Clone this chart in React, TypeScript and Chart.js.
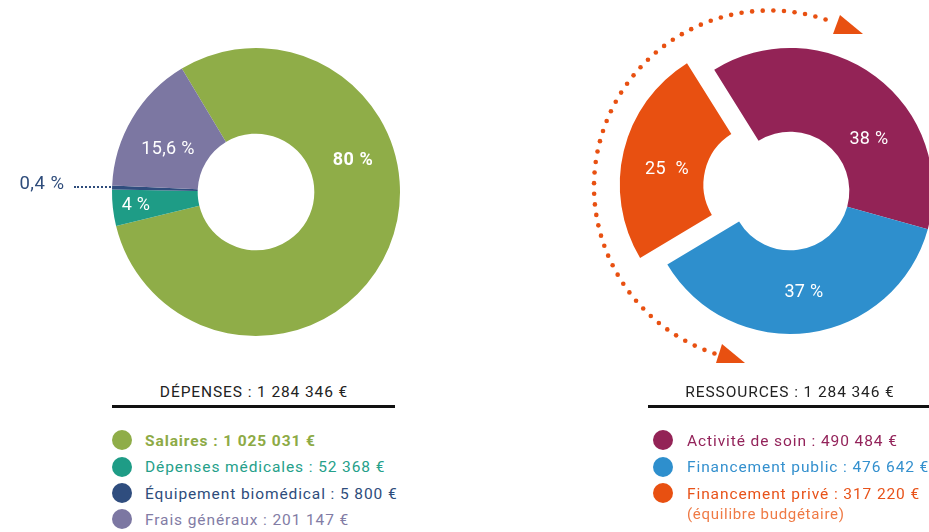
import React, { useEffect, useRef } from "react";
import { Chart, registerables } from "chart.js";

Chart.register(...registerables);

// ---------- data ----------
const depLabels = ["Salaires", "Dépenses médicales", "Équipement biomédical", "Frais généraux"];
const depValues = [1025031, 52368, 5800, 201147];
const depColors = ["#8FAD48", "#1E9C86", "#2F4D7E", "#7C77A2"];
const depTextColors = ["#8DAA45", "#25A08A", "#2E4C7B", "#827CA5"];
const depPct = ["80 %", "4 %", "0,4 %", "15,6 %"];
const depTotal = "DÉPENSES : 1 284 346 €";
const depLegend = ["Salaires : 1 025 031 €", "Dépenses médicales : 52 368 €", "Équipement biomédical : 5 800 €", "Frais généraux : 201 147 €"];

const resLabels = ["Activité de soin", "Financement public", "Financement privé"];
const resValues = [490484, 476642, 317220];
const resColors = ["#932356", "#2E8FCD", "#E85011"];
const resTextColors = ["#93235A", "#3490CE", "#E8531A"];
const resPct = ["38 %", "37 %", "25  %"];
const resTotal = "RESSOURCES : 1 284 346 €";
const resLegend = ["Activité de soin : 490 484 €", "Financement public : 476 642 €", "Financement privé : 317 220 €"];
const resNote = "(équilibre budgétaire)";

const FONT = "Roboto, 'Noto Sans', sans-serif";

const arrowPlugin = {
  id: "cycleArrow",
  afterDraw(chart: any) {
    const meta = chart.getDatasetMeta(0);
    const el = meta.data[0];
    if (!el) return;
    const cx = el.x;
    const cy = el.y;
    const ctx = chart.ctx;
    const ax = cx - 20;
    const ay = cy - 4.5;
    const r = 176;
    const start = (18.4 - 90) * Math.PI / 180;
    const end = (198.4 - 90 - 360) * Math.PI / 180;
    const n = 52;
    ctx.save();
    ctx.fillStyle = "#E85011";
    for (let i = 0; i <= n; i++) {
      const a = start + (end - start) * (i / n);
      ctx.beginPath();
      ctx.arc(ax + r * Math.cos(a), ay + r * Math.sin(a), 2.3, 0, Math.PI * 2);
      ctx.fill();
    }
    const tri = (pts: number[][]) => {
      ctx.beginPath();
      ctx.moveTo(cx + pts[0][0], cy + pts[0][1]);
      ctx.lineTo(cx + pts[1][0], cy + pts[1][1]);
      ctx.lineTo(cx + pts[2][0], cy + pts[2][1]);
      ctx.closePath();
      ctx.fill();
    };
    tri([[43, -157], [73, -157], [50, -176]]);
    tri([[-74, 172], [-45, 172], [-68, 153]]);
    ctx.restore();
  },
};

function Donut(props: {
  labels: string[];
  values: number[];
  colors: string[];
  rotation: number;
  radius: number;
  cutout: string;
  offsets: number[];
  size: number;
  left: number;
  top: number;
  plugins?: any[];
}) {
  const ref = useRef<HTMLCanvasElement | null>(null);
  useEffect(() => {
    if (!ref.current) return;
    const chart = new Chart(ref.current, {
      type: "doughnut",
      data: {
        labels: props.labels,
        datasets: [
          {
            data: props.values,
            backgroundColor: props.colors,
            borderWidth: 0,
            offset: props.offsets,
          } as any,
        ],
      },
      options: {
        responsive: false,
        animation: false,
        events: [],
        rotation: props.rotation,
        radius: props.radius,
        cutout: props.cutout,
        layout: { padding: 0 },
        plugins: { legend: { display: false }, tooltip: { enabled: false } },
      } as any,
      plugins: props.plugins || [],
    });
    return () => chart.destroy();
  }, []);
  return (
    <canvas
      ref={ref}
      width={props.size}
      height={props.size}
      style={{ position: "absolute", left: props.left, top: props.top, width: props.size, height: props.size }}
    />
  );
}

function T(props: { x: number; y: number; children: any; style?: any; center?: boolean }) {
  return (
    <div
      style={{
        position: "absolute",
        left: props.x,
        top: props.y,
        transform: props.center ? "translate(-50%, -50%)" : "translate(0, -50%)",
        whiteSpace: "pre",
        fontFamily: FONT,
        fontSize: 15.5,
        letterSpacing: "0.9px",
        lineHeight: 1,
        ...props.style,
      }}
    >
      {props.children}
    </div>
  );
}

function Dot(props: { x: number; y: number; color: string }) {
  return (
    <div
      style={{
        position: "absolute",
        left: props.x - 10,
        top: props.y - 10,
        width: 20,
        height: 20,
        borderRadius: "50%",
        background: props.color,
      }}
    />
  );
}

export default function App() {
  const depRows = [440, 466.5, 493, 519];
  const resRows = [440, 466.5, 493];
  const textShift = 1.5;
  return (
    <div
      style={{
        position: "absolute",
        left: 0,
        top: 0,
        width: 929,
        height: 532,
        overflow: "hidden",
        background: "#fff",
      }}
    >
      <Donut
        labels={depLabels}
        values={depValues}
        colors={depColors}
        rotation={-31}
        radius={144}
        cutout="40.5%"
        offsets={[0, 0, 0, 0]}
        size={320}
        left={96}
        top={32}
      />
      <Donut
        labels={resLabels}
        values={resValues}
        colors={resColors}
        rotation={-32}
        radius={143}
        cutout="41.5%"
        offsets={[0, 0, 112]}
        size={400}
        left={590}
        top={-9}
        plugins={[arrowPlugin]}
      />

      {/* donut labels */}
      <T x={353} y={159} center style={{ color: "#fff", fontWeight: 700, fontSize: 18, letterSpacing: "0.5px" }}>{depPct[0]}</T>
      <T x={168} y={148} center style={{ color: "#fff", fontSize: 18, letterSpacing: "0.3px" }}>{depPct[3]}</T>
      <T x={136} y={204} center style={{ color: "#fff", fontSize: 18, letterSpacing: "0.3px" }}>{depPct[1]}</T>
      <T x={42} y={183} center style={{ color: "#2E4C7B", fontSize: 18.5, letterSpacing: "0.5px" }}>{depPct[2]}</T>
      <div style={{ position: "absolute", left: 74, top: 186, width: 37, height: 0, borderTop: "2.5px dotted #2E4C7B" }} />

      <T x={869} y={138} center style={{ color: "#fff", fontSize: 18, letterSpacing: "0.3px" }}>{resPct[0]}</T>
      <T x={804} y={291} center style={{ color: "#fff", fontSize: 18, letterSpacing: "0.3px" }}>{resPct[1]}</T>
      <T x={667} y={168} center style={{ color: "#fff", fontSize: 18, letterSpacing: "0.3px" }}>{resPct[2]}</T>

      {/* titles */}
      <T x={254} y={391 + textShift} center style={{ color: "#222" }}>{depTotal}</T>
      <div style={{ position: "absolute", left: 112, top: 405, width: 283, height: 3, background: "#111" }} />
      <T x={790} y={391 + textShift} center style={{ color: "#222" }}>{resTotal}</T>
      <div style={{ position: "absolute", left: 648, top: 405, width: 290, height: 3, background: "#111" }} />

      {/* left legend */}
      {depLegend.map((txt, i) => (
        <React.Fragment key={"d" + i}>
          <Dot x={122} y={depRows[i]} color={depColors[i]} />
          <T x={145} y={depRows[i] + textShift} style={{ color: depTextColors[i], fontWeight: i === 0 ? 700 : 400 }}>{txt}</T>
        </React.Fragment>
      ))}

      {/* right legend */}
      {resLegend.map((txt, i) => (
        <React.Fragment key={"r" + i}>
          <Dot x={663} y={resRows[i]} color={resColors[i]} />
          <T x={687} y={resRows[i] + textShift} style={{ color: resTextColors[i] }}>{txt}</T>
        </React.Fragment>
      ))}
      <T x={687} y={512 + textShift} style={{ color: "#EF7A45", fontSize: 15, letterSpacing: "0.7px" }}>{resNote}</T>
    </div>
  );
}
